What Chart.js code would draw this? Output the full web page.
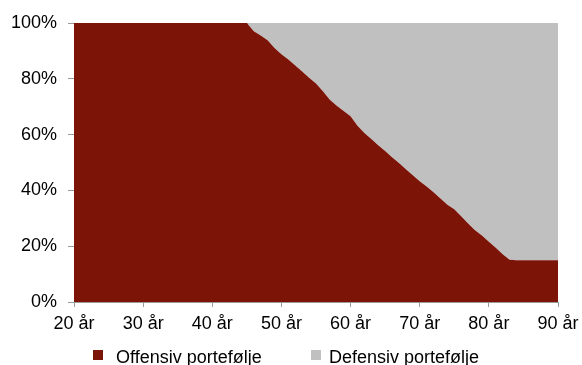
<!DOCTYPE html>
<html>
<head>
<meta charset="utf-8">
<script src="https://cdn.jsdelivr.net/npm/chart.js@4/dist/chart.umd.min.js"></script>
<style>
  html, body { margin: 0; padding: 0; background: #ffffff; }
  canvas { display: block; }
</style>
</head>
<body>
<canvas id="chart" width="582" height="365"></canvas>
<script>
// Age in years
const ages = [
  20, 21, 22, 23, 24, 25, 26, 27, 28, 29,
  30, 31, 32, 33, 34, 35, 36, 37, 38, 39,
  40, 41, 42, 43, 44, 45, 46, 47, 48, 49,
  50, 51, 52, 53, 54, 55, 56, 57, 58, 59,
  60, 61, 62, 63, 64, 65, 66, 67, 68, 69,
  70, 71, 72, 73, 74, 75, 76, 77, 78, 79,
  80, 81, 82, 83, 84, 85, 86, 87, 88, 89,
  90
];

// Share of the offensive portfolio (%)
const offensiv = [
  100, 100, 100, 100, 100, 100, 100, 100, 100, 100,
  100, 100, 100, 100, 100, 100, 100, 100, 100, 100,
  100, 100, 100, 100, 100, 100, 97, 95.5, 93.8, 91,
  88.8, 86.9, 84.8, 82.6, 80.4, 78.3, 75.5, 72.5, 70.3, 68.5,
  66.6, 63.2, 60.6, 58.4, 56.2, 54.1, 51.9, 49.8, 47.6, 45.4,
  43.3, 41.4, 39.3, 37.1, 34.9, 33.2, 30.7, 28.1, 25.7, 23.8,
  21.6, 19.4, 17.1, 15.1, 15, 15, 15, 15, 15, 15,
  15
];

// Share of the defensive portfolio (%)
const defensiv = [
  0, 0, 0, 0, 0, 0, 0, 0, 0, 0,
  0, 0, 0, 0, 0, 0, 0, 0, 0, 0,
  0, 0, 0, 0, 0, 0, 3, 4.5, 6.2, 9,
  11.2, 13.1, 15.2, 17.4, 19.6, 21.7, 24.5, 27.5, 29.7, 31.5,
  33.4, 36.8, 39.4, 41.6, 43.8, 45.9, 48.1, 50.2, 52.4, 54.6,
  56.7, 58.6, 60.7, 62.9, 65.1, 66.8, 69.3, 71.9, 74.3, 76.2,
  78.4, 80.6, 82.9, 84.9, 85, 85, 85, 85, 85, 85,
  85
];

const seriesNames = ['Offensiv portefølje', 'Defensiv portefølje'];
const xTicks = [20, 30, 40, 50, 60, 70, 80, 90];
const yTicks = [0, 20, 40, 60, 80, 100];

const FONT = 'Liberation Sans, Arial, Helvetica, sans-serif';
const AXIS_GREY = '#9a9a9a';
const RED = '#7c1408';
const GREY = '#c0c0c0';

const toPoints = (vals) => ages.map((a, i) => ({ x: a, y: vals[i] }));

// Legend drawn under the axis: square swatch followed by the series name
const bottomLegend = {
  id: 'bottomLegend',
  afterDraw(chart) {
    const ctx = chart.ctx;
    const boxX = [93, 311];
    const textX = [116, 329];
    const boxTop = 350;
    const baseline = 363;
    ctx.save();
    ctx.font = '18px ' + FONT;
    ctx.textBaseline = 'alphabetic';
    ctx.textAlign = 'left';
    chart.data.datasets.forEach((ds, i) => {
      ctx.fillStyle = ds.backgroundColor;
      ctx.fillRect(boxX[i], boxTop, 10, 10);
      ctx.fillStyle = '#000000';
      ctx.fillText(ds.label, textX[i], baseline);
    });
    ctx.restore();
  }
};

new Chart(document.getElementById('chart'), {
  type: 'line',
  data: {
    datasets: [
      {
        label: seriesNames[0],
        data: toPoints(offensiv),
        backgroundColor: RED,
        borderColor: RED,
        borderWidth: 0,
        pointRadius: 0,
        tension: 0,
        fill: 'origin'
      },
      {
        label: seriesNames[1],
        data: toPoints(defensiv),
        backgroundColor: GREY,
        borderColor: GREY,
        borderWidth: 0,
        pointRadius: 0,
        tension: 0,
        fill: '-1'
      }
    ]
  },
  options: {
    responsive: false,
    animation: false,
    devicePixelRatio: 1,
    layout: { padding: { left: 0, right: 24, top: 23, bottom: 33 } },
    plugins: {
      legend: { display: false },
      tooltip: { enabled: false }
    },
    scales: {
      x: {
        type: 'linear',
        min: xTicks[0],
        max: xTicks[xTicks.length - 1],
        afterBuildTicks(scale) { scale.ticks = xTicks.map(v => ({ value: v })); },
        afterFit(scale) {
          scale.height = 30;
          scale.paddingLeft = 0;
          scale.paddingRight = 0;
        },
        border: { color: AXIS_GREY, width: 1 },
        grid: {
          drawOnChartArea: false,
          color: AXIS_GREY,
          tickColor: AXIS_GREY,
          tickLength: 5
        },
        ticks: {
          padding: 6,
          color: '#000000',
          font: { family: FONT, size: 18 },
          maxRotation: 0,
          callback: (v) => v + ' år'
        }
      },
      y: {
        stacked: true,
        min: 0,
        max: 100,
        afterBuildTicks(scale) { scale.ticks = yTicks.map(v => ({ value: v })); },
        afterFit(scale) {
          scale.width = 74;
          scale.paddingTop = 0;
          scale.paddingBottom = 0;
        },
        border: { color: AXIS_GREY, width: 1 },
        grid: {
          color: (c) => (c.tick && c.tick.value === 100 ? AXIS_GREY : 'rgba(0,0,0,0)'),
          tickColor: AXIS_GREY,
          tickLength: 6
        },
        ticks: {
          padding: 11,
          color: '#000000',
          font: { family: FONT, size: 18 },
          callback: (v) => v + '%'
        }
      }
    }
  },
  plugins: [bottomLegend]
});
</script>
</body>
</html>
